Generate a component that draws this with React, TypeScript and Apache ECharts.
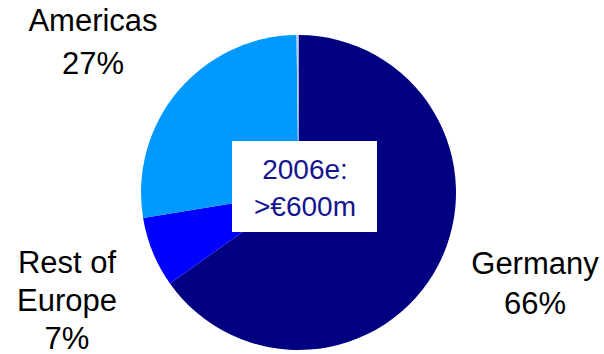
import React, { useEffect, useRef } from "react";
import * as echarts from "echarts";

const categories = ["Germany", "Rest of\nEurope", "Americas", "Other"];
// slice sizes as drawn in the picture (%)
const values = [65.2, 7.2, 27.4, 0.2];
// percentages printed on the labels
const labelPercents = ["66%", "7%", "27%", ""];
const colors = ["#000080", "#0000FF", "#0099FF", "#b8cfe6"];
const centerLines = ["2006e:", ">€600m"];

// label anchor (top-center) per slice
const labelPos = [
  { x: 535, y: 243, lh: 40 },
  { x: 67, y: 243, lh: 38 },
  { x: 93, y: -1, lh: 43 },
  { x: 298, y: -50, lh: 10 },
];

export default function App() {
  const ref = useRef<HTMLDivElement>(null);
  useEffect(() => {
    document.body.style.margin = "0";
    const chart = echarts.init(ref.current!, null, { renderer: "svg" });
    chart.setOption({
      animation: false,
      backgroundColor: "#ffffff",
      series: [
        {
          type: "pie",
          center: [298.5, 192.5],
          radius: [0, 157.5],
          startAngle: 90,
          clockwise: true,
          avoidLabelOverlap: false,
          minAngle: 0,
          labelLine: { show: false },
          label: {
            show: true,
            position: "outside",
            formatter: (p: any) =>
              labelPercents[p.dataIndex] ? `${p.name}\n${labelPercents[p.dataIndex]}` : "",
            color: "#000000",
            fontFamily: "Liberation Sans, Arial, sans-serif",
            fontSize: 31,
            align: "center",
          },
          labelLayout: (params: any) => {
            const p = labelPos[params.dataIndex];
            return { x: p.x, y: p.y, align: "center", verticalAlign: "top" };
          },
          itemStyle: { borderWidth: 0 },
          emphasis: { disabled: true },
          data: categories.map((c, i) => ({
            name: c,
            value: values[i],
            itemStyle: { color: colors[i] },
            label: { lineHeight: labelPos[i].lh, show: labelPercents[i] !== "" },
          })),
        },
      ],
      graphic: [
        {
          type: "rect",
          shape: { x: 232, y: 141, width: 145, height: 91 },
          style: { fill: "#ffffff" },
          z: 10,
        },
        {
          type: "text",
          x: 305,
          y: 151,
          z: 11,
          style: {
            text: centerLines.join("\n"),
            fill: "#14148f",
            font: "28px 'Liberation Sans', Arial, sans-serif",
            lineHeight: 37,
            align: "center",
            verticalAlign: "top",
          },
        },
      ],
    });
    return () => chart.dispose();
  }, []);
  return <div ref={ref} style={{ width: 604, height: 354 }} />;
}
